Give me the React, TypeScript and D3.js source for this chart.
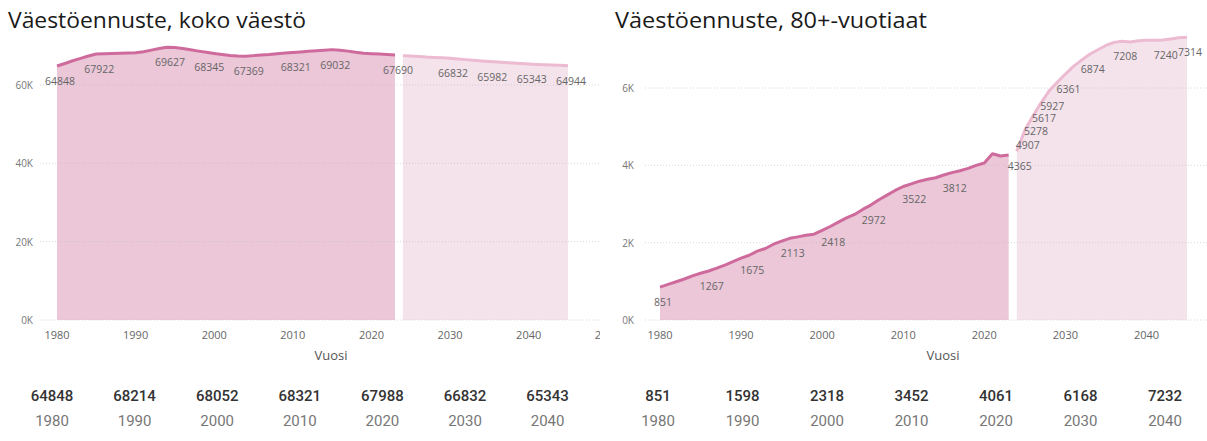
import React, { useEffect, useRef } from 'react';
import * as d3 from 'd3';

// koko väestö, toteutunut 1980-2023
const totalHistYears = d3.range(1980, 2024);
const totalHistValues = [
  64848, 65500, 66200, 66800, 67400, 67922, 68000, 68050, 68100, 68150,
  68214, 68500, 68900, 69300, 69627, 69550, 69300, 69000, 68650, 68345,
  68052, 67800, 67550, 67420, 67369, 67500, 67650, 67800, 68000, 68150,
  68321, 68450, 68600, 68750, 68900, 69032, 68900, 68650, 68350, 68100,
  67988, 67900, 67800, 67690,
];
// koko väestö, ennuste 2024-2045
const totalProjYears = d3.range(2024, 2046);
const totalProjValues = [
  67500, 67400, 67300, 67150, 67050, 66950, 66832, 66650, 66480, 66300,
  66140, 65982, 65850, 65720, 65590, 65460, 65343, 65260, 65180, 65100,
  65020, 64944,
];
const totalLabelYears = [1980, 1985, 1994, 1999, 2004, 2010, 2015, 2023, 2030, 2035, 2040, 2045];

// 80+-vuotiaat
const oldHistYears = d3.range(1980, 2024);
const oldHistValues = [
  851, 920, 990, 1060, 1140, 1210, 1267, 1340, 1420, 1510,
  1598, 1675, 1780, 1850, 1960, 2040, 2113, 2150, 2190, 2220,
  2318, 2418, 2530, 2640, 2730, 2860, 2972, 3110, 3230, 3350,
  3452, 3522, 3590, 3640, 3680, 3750, 3812, 3860, 3920, 4000,
  4061, 4300, 4240, 4270,
];
const oldProjYears = d3.range(2024, 2046);
const oldProjValues = [
  4365, 4907, 5278, 5617, 5927, 6150, 6361, 6560, 6720, 6874,
  6990, 7100, 7180, 7208, 7190, 7220, 7232, 7236, 7240, 7270,
  7300, 7314,
];
const oldLabelYears = [1980, 1986, 1991, 1996, 2001, 2006, 2011, 2016, 2024, 2025, 2026, 2027, 2028, 2030, 2033, 2037, 2042, 2045];

const xTickYears = [1980, 1990, 2000, 2010, 2020, 2030, 2040, 2050];
const totalYTicks = [0, 20000, 40000, 60000];
const oldYTicks = [0, 2000, 4000, 6000];

// kortit kaavioiden alla
const cardYears = ['1980', '1990', '2000', '2010', '2020', '2030', '2040'];
const totalCardValues = ['64848', '68214', '68052', '68321', '67988', '66832', '65343'];
const oldCardValues = ['851', '1598', '2318', '3452', '4061', '6168', '7232'];

const DARK_FILL = '#ebc7d8';
const DARK_LINE = '#cf6b9c';
const LIGHT_FILL = '#f5e3ec';
const LIGHT_LINE = '#ecbad1';
const FONT = '"Open Sans", sans-serif';

interface Panel {
  id: string;
  title: string;
  titleX: number;
  titleWidth: number;
  hist: { year: number; value: number }[];
  proj: { year: number; value: number }[];
  labelYears: number[];
  yTicks: number[];
  yMax: number;
  yTop: number;
  xLeft: number;
  xRight: number;
  gridX0: number;
  gridX1: number;
  yLabelX: number;
  clipX1: number;
  axisTitleX: number;
  cardValues: string[];
  cardX0: number;
  cardStep: number;
}

const zip = (ys: number[], vs: number[]) => ys.map((year, i) => ({ year, value: vs[i] }));

const panels: Panel[] = [
  {
    id: 'total',
    title: 'Väestöennuste, koko väestö',
    titleX: 8,
    titleWidth: 298,
    hist: zip(totalHistYears, totalHistValues),
    proj: zip(totalProjYears, totalProjValues),
    labelYears: totalLabelYears,
    yTicks: totalYTicks,
    yMax: 60000,
    yTop: 85,
    xLeft: 57,
    xRight: 568,
    gridX0: 40,
    gridX1: 600,
    yLabelX: 33,
    clipX1: 600,
    axisTitleX: 331,
    cardValues: totalCardValues,
    cardX0: 52,
    cardStep: 82.6,
  },
  {
    id: 'old',
    title: 'Väestöennuste, 80+-vuotiaat',
    titleX: 615,
    titleWidth: 312,
    hist: zip(oldHistYears, oldHistValues),
    proj: zip(oldProjYears, oldProjValues),
    labelYears: oldLabelYears,
    yTicks: oldYTicks,
    yMax: 6000,
    yTop: 88,
    xLeft: 660,
    xRight: 1187,
    gridX0: 645,
    gridX1: 1207,
    yLabelX: 634,
    clipX1: 1190,
    axisTitleX: 943,
    cardValues: oldCardValues,
    cardX0: 658,
    cardStep: 84.5,
  },
];

const Y_BOTTOM = 320;

const App: React.FC = () => {
  const chartRef = useRef<SVGSVGElement>(null);

  useEffect(() => {
    if (!chartRef.current) return;
    const root = d3.select(chartRef.current);
    root.selectAll('*').remove();
    const defs = root.append('defs');

    panels.forEach((p) => {
      const x = d3.scaleLinear().domain([1980, 2045]).range([p.xLeft, p.xRight]);
      const y = d3.scaleLinear().domain([0, p.yMax]).range([Y_BOTTOM, p.yTop]);
      const g = root.append('g');

      defs
        .append('clipPath')
        .attr('id', `clip-${p.id}`)
        .append('rect')
        .attr('x', p.gridX0 - 40)
        .attr('y', 0)
        .attr('width', p.clipX1 - p.gridX0 + 40)
        .attr('height', 441);

      // otsikko
      g.append('text')
        .attr('x', p.titleX)
        .attr('y', 28)
        .attr('font-family', FONT)
        .attr('font-size', 21)
        .attr('fill', '#1a1a1a')
        .attr('textLength', p.titleWidth)
        .attr('lengthAdjust', 'spacingAndGlyphs')
        .text(p.title);

      // alueet
      const area = d3
        .area<{ year: number; value: number }>()
        .x((d) => x(d.year))
        .y0(y(0))
        .y1((d) => y(d.value));
      const line = d3
        .line<{ year: number; value: number }>()
        .x((d) => x(d.year))
        .y((d) => y(d.value));

      g.append('path').attr('d', area(p.hist) as string).attr('fill', DARK_FILL);
      g.append('path').attr('d', area(p.proj) as string).attr('fill', LIGHT_FILL);

      // ruudukko
      p.yTicks.forEach((t) => {
        g.append('line')
          .attr('x1', p.gridX0)
          .attr('x2', p.gridX1)
          .attr('y1', y(t))
          .attr('y2', y(t))
          .attr('stroke', '#bdbdbd')
          .attr('stroke-opacity', 0.6)
          .attr('stroke-width', 1)
          .attr('stroke-dasharray', '1 2');
        g.append('text')
          .attr('x', p.yLabelX)
          .attr('y', y(t) + 4)
          .attr('text-anchor', 'end')
          .attr('font-family', FONT)
          .attr('font-size', 10)
          .attr('fill', '#777')
          .text(`${t / 1000}K`);
      });

      g.append('path')
        .attr('d', line(p.hist) as string)
        .attr('fill', 'none')
        .attr('stroke', DARK_LINE)
        .attr('stroke-width', 3)
        .attr('stroke-linejoin', 'round');
      g.append('path')
        .attr('d', line(p.proj) as string)
        .attr('fill', 'none')
        .attr('stroke', LIGHT_LINE)
        .attr('stroke-width', 3)
        .attr('stroke-linejoin', 'round');

      // arvojen tekstit
      const all = [...p.hist, ...p.proj];
      p.labelYears.forEach((yr) => {
        const d = all.find((a) => a.year === yr);
        if (!d) return;
        g.append('text')
          .attr('x', x(d.year) + 3)
          .attr('y', y(d.value) + 19)
          .attr('text-anchor', 'middle')
          .attr('font-family', FONT)
          .attr('font-size', 10.5)
          .attr('fill', '#666')
          .text(d.value);
      });

      // x-akseli
      const axisG = g.append('g').attr('clip-path', `url(#clip-${p.id})`);
      xTickYears
        .filter((yr) => x(yr) - 14 < p.clipX1)
        .forEach((yr) => {
          axisG
            .append('text')
            .attr('x', x(yr))
            .attr('y', 339)
            .attr('text-anchor', 'middle')
            .attr('font-family', FONT)
            .attr('font-size', 11)
            .attr('fill', '#666')
            .text(yr);
        });
      g.append('text')
        .attr('x', p.axisTitleX)
        .attr('y', 360)
        .attr('text-anchor', 'middle')
        .attr('font-family', FONT)
        .attr('font-size', 13)
        .attr('fill', '#555')
        .text('Vuosi');

      // kortit
      p.cardValues.forEach((v, i) => {
        const cx = p.cardX0 + i * p.cardStep;
        g.append('text')
          .attr('x', cx)
          .attr('y', 401)
          .attr('text-anchor', 'middle')
          .attr('font-family', 'Roboto, sans-serif')
          .attr('font-weight', 500)
          .attr('font-size', 15)
          .attr('fill', '#333')
          .text(v);
        g.append('text')
          .attr('x', cx)
          .attr('y', 426)
          .attr('text-anchor', 'middle')
          .attr('font-family', 'Roboto, sans-serif')
          .attr('font-size', 15)
          .attr('fill', '#777')
          .text(cardYears[i]);
      });
    });
  }, []);

  return (
    <svg
      ref={chartRef}
      width={1207}
      height={441}
      style={{ position: 'absolute', left: 0, top: 0, background: '#fff' }}
    ></svg>
  );
};

export default App;
